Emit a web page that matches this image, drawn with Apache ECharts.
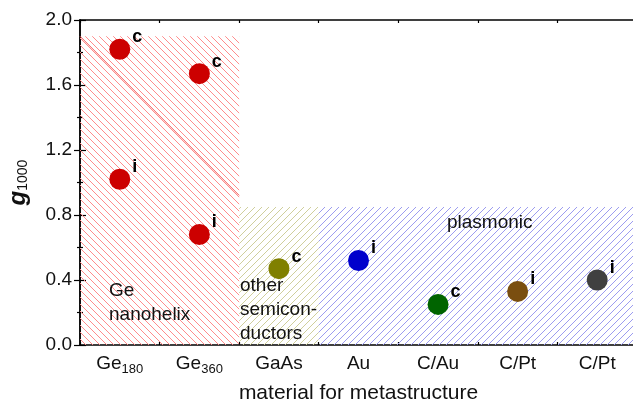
<!DOCTYPE html>
<html>
<head>
<meta charset="utf-8">
<script src="https://cdn.jsdelivr.net/npm/echarts@6/dist/echarts.min.js"></script>
<style>html,body{margin:0;padding:0;background:#fff}#c{width:633px;height:406px}</style>
</head>
<body>
<div id="c"></div>
<script>
// ---- data ----
const categories = ['Ge180', 'Ge360', 'GaAs', 'Au', 'C/Au', 'C/Pt', 'C/Pt'];
const yTicks = [0, 0.4, 0.8, 1.2, 1.6, 2.0];
const pointCategory = [0, 0, 1, 1, 2, 3, 4, 5, 6];
const pointG = [1.82, 1.02, 1.67, 0.68, 0.47, 0.52, 0.25, 0.33, 0.40];
const pointType = ['c', 'i', 'c', 'i', 'c', 'i', 'c', 'i', 'i'];
const regionStart = [0, 2, 3];
const regionEnd = [2, 3, 7];
const regionTop = [1.9, 0.85, 0.85];
const regionNames = ['Ge\nnanohelix', 'other\nsemicon-\nductors', 'plasmonic'];

// ---- styles ----
const categoryColors = ['#cc0000', '#cc0000', '#808000', '#0000cc', '#006400', '#7a4e10', '#404040'];
function hatch(color, dir) {
  const s = 7;
  const c = document.createElement('canvas');
  c.width = s; c.height = s;
  const ctx = c.getContext('2d');
  ctx.strokeStyle = color;
  ctx.lineWidth = 1;
  ctx.beginPath();
  for (const k of [-s, 0, s]) {
    if (dir === '\\') { ctx.moveTo(k, 0); ctx.lineTo(k + s, s); }
    else { ctx.moveTo(k, s); ctx.lineTo(k + s, 0); }
  }
  ctx.stroke();
  return { image: c, repeat: 'repeat' };
}
const regionFills = [hatch('#ff8c8c', '\\'), hatch('#cfcf9c', '/'), hatch('#9c9cf0', '/')];

const font = 'Liberation Sans, Arial, sans-serif';
const chart = echarts.init(document.getElementById('c'), null, { renderer: 'canvas' });

const axisLineStyle = { color: '#000', width: 1.5 };

const option = {
  animation: false,
  grid: { left: 80, right: -4, top: 20, bottom: 61, containLabel: false, outerBoundsMode: 'none' },
  xAxis: [
    {
      type: 'category', data: categories, position: 'bottom', boundaryGap: true,
      axisLine: { lineStyle: axisLineStyle },
      axisTick: { inside: true, alignWithLabel: true, length: 6, lineStyle: { color: '#000', width: 1.2 } },
      axisLabel: {
        fontFamily: font, fontSize: 19, color: '#111', margin: 4, interval: 0, lineHeight: 29,
        formatter: v => v.replace(/^Ge(\d+)$/, 'Ge{s|$1}'),
        rich: { s: { fontFamily: font, fontSize: 13, color: '#111', verticalAlign: 'top', padding: [14, 0, 0, 0] } }
      },
      name: 'material for metastructure', nameLocation: 'middle', nameGap: 38,
      nameTextStyle: { fontFamily: font, fontSize: 21, color: '#111' },
      splitLine: { show: false }
    },
    {
      type: 'value', min: 0, max: 7, interval: 1, position: 'bottom',
      axisLine: { show: false },
      axisTick: { show: true, inside: true, length: 3, lineStyle: { color: '#000', width: 1.2 } },
      axisLabel: { show: false }, splitLine: { show: false }
    },
    {
      type: 'category', data: categories, position: 'top', boundaryGap: true,
      axisLine: { lineStyle: axisLineStyle },
      axisTick: { inside: true, alignWithLabel: true, length: 6, lineStyle: { color: '#000', width: 1.2 } },
      axisLabel: { show: false }, splitLine: { show: false }
    },
    {
      type: 'value', min: 0, max: 7, interval: 1, position: 'top',
      axisLine: { show: false },
      axisTick: { show: true, inside: true, length: 3, lineStyle: { color: '#000', width: 1.2 } },
      axisLabel: { show: false }, splitLine: { show: false }
    }
  ],
  yAxis: [
    {
      type: 'value', min: yTicks[0], max: yTicks[yTicks.length - 1], interval: 0.4, position: 'left',
      axisLine: { show: true, lineStyle: axisLineStyle },
      axisTick: { show: true, inside: true, length: 6, lineStyle: { color: '#000', width: 1.2 } },
      minorTick: { show: true, splitNumber: 2, length: 3, lineStyle: { color: '#000', width: 1.2 } },
      axisLabel: { fontFamily: font, fontSize: 19, color: '#111', margin: 8, formatter: v => v.toFixed(1) },
      splitLine: { show: false },
      name: '{g|g}{s|1000}', nameLocation: 'middle', nameGap: 50,
      nameTextStyle: {
        rich: {
          g: { fontFamily: font, fontSize: 24, fontWeight: 'bold', fontStyle: 'italic', color: '#111' },
          s: { fontFamily: font, fontSize: 14, color: '#111', lineHeight: 6, verticalAlign: 'bottom' }
        }
      }
    },
    {
      type: 'value', min: yTicks[0], max: yTicks[yTicks.length - 1], interval: 0.4, position: 'right',
      axisLine: { show: true, lineStyle: axisLineStyle },
      axisTick: { show: true, inside: true, length: 6, lineStyle: { color: '#000', width: 1.2 } },
      minorTick: { show: true, splitNumber: 2, length: 3, lineStyle: { color: '#000', width: 1.2 } },
      axisLabel: { show: false }, splitLine: { show: false }
    }
  ],
  series: [
    {
      type: 'custom', xAxisIndex: 1, yAxisIndex: 0, z: 1, silent: true,
      data: regionStart.map((s, i) => [s, regionEnd[i], regionTop[i]]),
      encode: { x: [0, 1], y: 2 },
      renderItem: (params, api) => {
        const p0 = api.coord([api.value(0), 0]);
        const p1 = api.coord([api.value(1), api.value(2)]);
        const children = [{
          type: 'rect',
          shape: { x: p0[0], y: p1[1], width: p1[0] - p0[0], height: p0[1] - p1[1] },
          style: { fill: regionFills[params.dataIndex] }
        }];
        if (params.dataIndex === 0) {
          const w = p1[0] - p0[0];
          children.push({
            type: 'line',
            shape: { x1: p0[0], y1: p1[1], x2: p1[0], y2: p1[1] + w },
            style: { stroke: '#f05050', lineWidth: 1 }
          });
        }
        return { type: 'group', children };
      }
    },
    {
      type: 'scatter', xAxisIndex: 0, yAxisIndex: 0, z: 3,
      symbol: 'circle', symbolSize: 21,
      itemStyle: { opacity: 1 },
      data: pointCategory.map((c, i) => ({
        value: [c, pointG[i]],
        itemStyle: { color: categoryColors[c], opacity: 1 },
        label: { formatter: pointType[i] }
      })),
      label: {
        show: true, position: 'right', distance: 2, offset: [0, -12],
        fontFamily: font, fontSize: 18, fontWeight: 'bold', color: '#000', opacity: 1
      }
    }
  ],
  graphic: [
    { type: 'text', left: 109, top: 279, z: 10, style: { text: regionNames[0], font: '19px ' + font, fill: '#111', lineHeight: 24 } },
    { type: 'text', left: 240, top: 274, z: 10, style: { text: regionNames[1], font: '19px ' + font, fill: '#111', lineHeight: 24 } },
    { type: 'text', left: 447, top: 211, z: 10, style: { text: regionNames[2], font: '19px ' + font, fill: '#111', lineHeight: 24 } }
  ]
};
chart.setOption(option);
</script>
</body>
</html>
